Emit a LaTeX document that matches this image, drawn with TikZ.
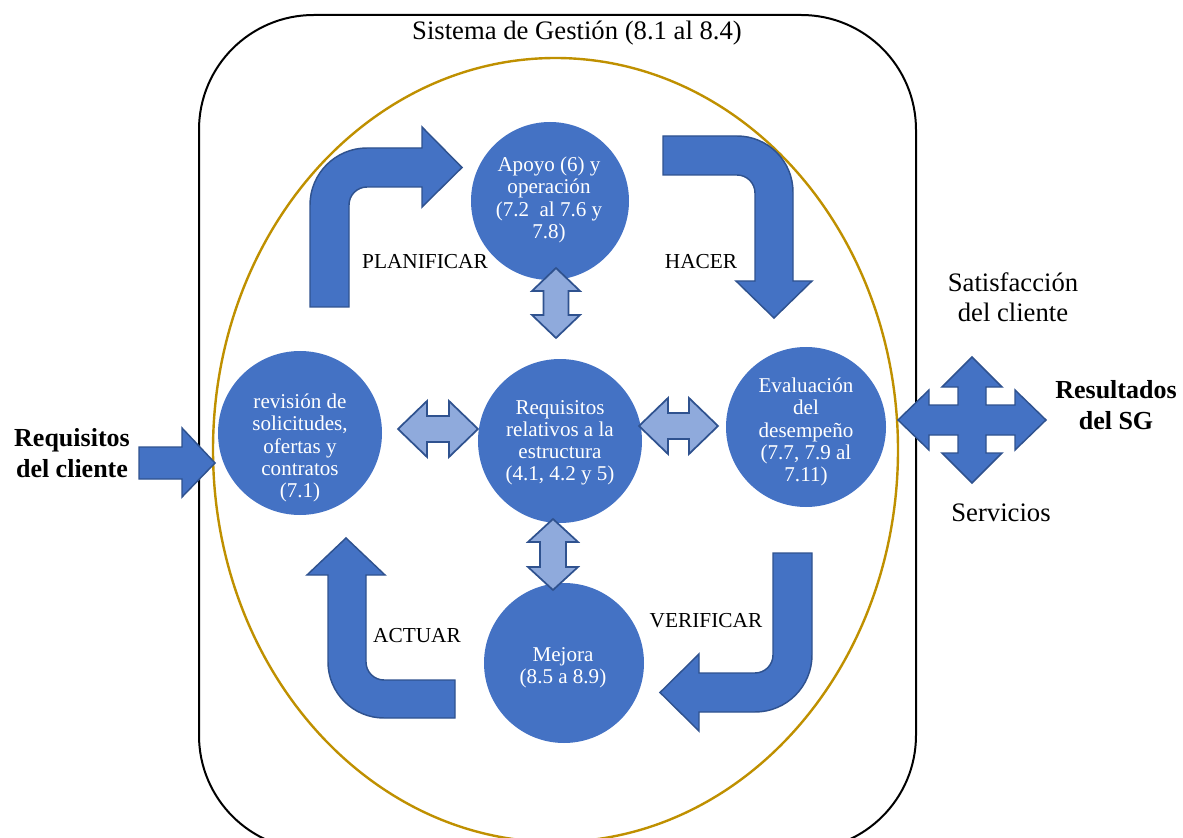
\documentclass[tikz,border=0pt]{standalone}
\usepackage{fontspec}
\setmainfont{Liberation Serif}
\definecolor{bblue}{HTML}{4472C4}
\definecolor{bdark}{HTML}{2F528F}
\definecolor{blight}{HTML}{8FAADC}
\definecolor{gold}{HTML}{BF9000}
\begin{document}
\begin{tikzpicture}[x=0.75pt,y=-0.75pt,
  bubble/.style={circle,fill=bblue,draw=none,inner sep=0pt},
  bubtext/.style={text=white,align=center,inner sep=0pt,font=\fontsize{15.8}{16.6}\selectfont},
  bigarrow/.style={fill=bblue,draw=bdark,line width=1.1pt,line join=miter},
  dblarrow/.style={fill=blight,draw=bdark,line width=1.3pt,line join=miter},
  lbl/.style={inner sep=0pt,font=\fontsize{16}{19}\selectfont},
  side/.style={inner sep=0pt,align=center,font=\fontsize{20}{22.5}\selectfont},
  boldside/.style={inner sep=0pt,align=center,font=\fontsize{19.5}{23}\selectfont\bfseries}]
\useasboundingbox (0,0) rectangle (1183,838);
% outer system box
\draw[black,line width=1.5pt,rounded corners=86pt] (199,15) rectangle (916,850);
\node[inner sep=0pt,font=\fontsize{20}{24}\selectfont] (title) at (577,33) {Sistema de Gestión (8.1 al 8.4)};
% ellipse
\draw[gold,line width=1.8pt] (555.5,450) ellipse [x radius=342.5, y radius=392];
% input arrow
\draw[bigarrow] (139,447) -- (182,447) -- (182,428) -- (215,463) -- (182,497) -- (182,479) -- (139,479) -- cycle;
% PLANIFICAR arrow
\draw[bigarrow] (310,307) -- (310,205) arc[start angle=180,end angle=270,radius=57] -- (422,148) -- (422,127) -- (462,167.5) -- (422,207) -- (422,187) -- (367,187) arc[start angle=270,end angle=180,radius=18] -- (349,307) -- cycle;
% HACER arrow
\draw[bigarrow] (663,136) -- (737,136) arc[start angle=270,end angle=360,radius=56] -- (793,281) -- (812,281) -- (774,318) -- (736,281) -- (755,281) -- (755,193) arc[start angle=0,end angle=-90,radius=18] -- (663,175) -- cycle;
% VERIFICAR arrow
\draw[bigarrow] (773,553) -- (812,553) -- (812,655) arc[start angle=0,end angle=90,radius=57] -- (699,712) -- (699,731) -- (660,692.5) -- (699,654) -- (699,673) -- (755,673) arc[start angle=90,end angle=0,radius=18] -- cycle;
% ACTUAR arrow
\draw[bigarrow] (346,538) -- (385,575) -- (366,575) -- (366,662) arc[start angle=180,end angle=90,radius=18] -- (455,680) -- (455,718) -- (384,718) arc[start angle=90,end angle=180,radius=56] -- (328,575) -- (307,575) -- cycle;
% circles
\node[bubble,minimum size=118.5pt] (apoyo) at (550,201) {};
\node[bubble,minimum size=123pt] (req) at (560,441) {};
\node[bubble,minimum size=123pt] (rev) at (300,433) {};
\node[bubble,minimum size=120pt] (eval) at (806,427) {};
\node[bubble,minimum size=120pt] (mejora) at (564,663) {};
\node[bubtext] at (549,200) {Apoyo (6) y\\operación\\(7.2 \ al 7.6 y\\7.8)};
\node[bubtext] at (560,443) {Requisitos\\relativos a la\\estructura\\(4.1, 4.2 y 5)};
\node[bubtext] at (300,448) {revisión de\\solicitudes,\\ofertas y\\contratos\\(7.1)};
\node[bubtext] at (806,432) {Evaluación\\del\\desempeño\\(7.7, 7.9 al\\7.11)};
\node[bubtext] at (563,668) {Mejora\\(8.5 a 8.9)};
% double arrows
\draw[dblarrow] (556,268) -- (580,291) -- (568.5,291) -- (568.5,315) -- (580,315) -- (556,338) -- (532,315) -- (543.5,315) -- (543.5,291) -- (532,291) -- cycle;
\draw[dblarrow] (553,519) -- (578,542) -- (566,542) -- (566,567) -- (578,567) -- (553,590) -- (528,567) -- (540,567) -- (540,542) -- (528,542) -- cycle;
\draw[dblarrow] (398,429) -- (427,401) -- (427,416) -- (449,416) -- (449,401) -- (478,429) -- (449,457) -- (449,442) -- (427,442) -- (427,457) -- cycle;
\draw[dblarrow] (639,426) -- (668,398) -- (668,413) -- (689,413) -- (689,398) -- (718,426) -- (689,454) -- (689,439) -- (668,439) -- (668,454) -- cycle;
% four-way arrow
\draw[bigarrow] (898,420) -- (929,390) -- (929,405) -- (958,405) -- (958,387) -- (942,387) -- (972,357) -- (1002,387) -- (986,387) -- (986,405) -- (1015,405) -- (1015,390) -- (1046,420) -- (1015,450) -- (1015,435) -- (986,435) -- (986,453) -- (1002,453) -- (972,483) -- (942,453) -- (958,453) -- (958,435) -- (929,435) -- (929,450) -- cycle;
% labels
\node[lbl] (lplan) at (425,262) {PLANIFICAR};
\node[lbl] (lhacer) at (701,262) {HACER};
\node[lbl] (lverif) at (706,621) {VERIFICAR};
\node[lbl] (lact) at (417,636) {ACTUAR};
\node[boldside] (inreq) at (72,453) {Requisitos\\del cliente};
\node[boldside] (outres) at (1116,405) {Resultados\\del SG};
\node[side] (sat) at (1013,297) {Satisfacción\\del cliente};
\node[side] (serv) at (1001,513) {Servicios};
\end{tikzpicture}
\end{document}
